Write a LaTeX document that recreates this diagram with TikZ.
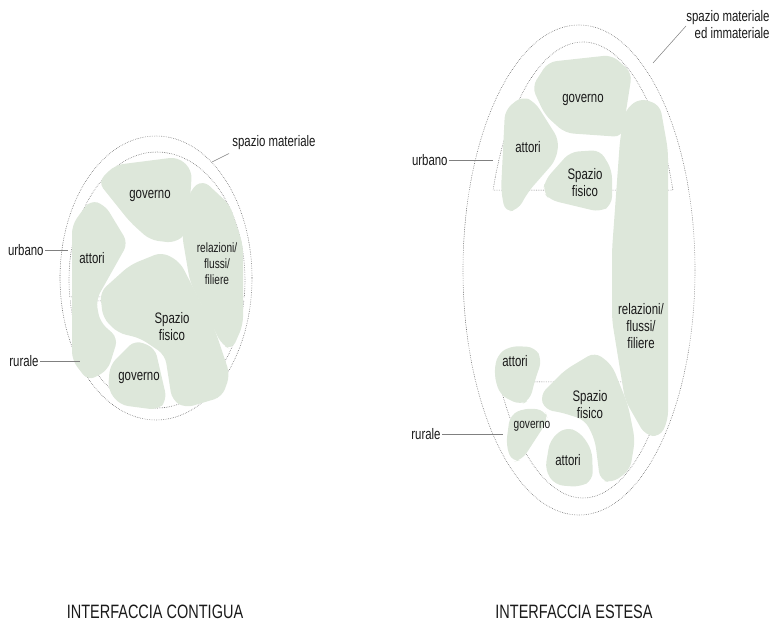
\documentclass[tikz,border=0pt]{standalone}
\usepackage{fontspec}
\setmainfont{Liberation Sans}[FakeStretch=0.75]
\definecolor{sage}{HTML}{DDE7DA}
\definecolor{ink}{HTML}{1A1A1A}
\tikzset{
  blob/.style={fill=sage,draw=none,rounded corners=7pt},
  ring/.style={draw=black!60,line width=0.5pt,dash pattern=on 0.5pt off 1pt},
  lead/.style={draw=black!50,line width=0.45pt},
  lbl/.style={text=ink,font=\fontsize{13}{14.5}\selectfont,inner sep=1pt,align=center},
  small/.style={font=\fontsize{11.5}{13.5}\selectfont},
  ttl/.style={text=ink,font=\fontsize{16.5}{19}\selectfont,inner sep=1pt}
}
\begin{document}
\begin{tikzpicture}[x=0.03cm,y=-0.03cm]
 \useasboundingbox (0,0) rectangle (776,625);
 % interfaccia contigua
 \draw[ring] (156,278) ellipse [x radius=96,y radius=142];
 \draw[ring] (157,280) ++(172.4:88 and 128) arc[start angle=172.4,end angle=367.6,x radius=88,y radius=128] -- cycle;
 \draw[ring] (157,280) ++(9.4:88 and 128) arc[start angle=9.4,end angle=170.6,x radius=88,y radius=128] -- cycle;
 \fill[blob] (98,182)--(115,165)--(178,157)--(192,170)--(188,232)--(175,243)--(150,240)--(130,222)--cycle;
 \fill[blob] (72,225)--(90,200)--(105,205)--(128,243)--(96,300)--(100,322)--(118,338)--(108,370)--(88,381)--(72,360)--cycle;
 \fill[blob] (190,190)--(203,180)--(230,205)--(243,245)--(243,325)--(232,350)--(222,345)--(190,282)--(182,235)--cycle;
 \fill[blob] (100,292)--(130,265)--(162,252)--(180,262)--(215,330)--(230,375)--(222,397)--(185,408)--(172,400)--(165,355)--(140,338)--(118,333)--(103,318)--cycle;
 \fill[blob] (110,365)--(135,340)--(155,348)--(167,400)--(158,410)--(120,405)--(108,390)--cycle;
 \node[lbl] (govA) at (150,196) {governo};
 \node[lbl] (attA) at (92,258) {attori};
 \node[lbl,small] (relA) at (217,264) {relazioni/\\flussi/\\filiere};
 \node[lbl] (spaA) at (172,327) {Spazio\\fisico};
 \node[lbl] (govB) at (139,378) {governo};
 \node[lbl,anchor=west] (matA) at (231,143) {spazio materiale};
 \node[lbl,anchor=east] (urbA) at (45,250) {urbano};
 \node[lbl,anchor=east] (rurA) at (40,361) {rurale};
 \coordinate (matAend) at (212,162);
 \coordinate (urbAend) at (68,250);
 \coordinate (rurAend) at (80,361);
 \draw[lead] (matA.south west) ++(-2,2) -- (matAend);
 \draw[lead] (urbA) -- (urbAend);
 \draw[lead] (rurA) -- (rurAend);
 \node[ttl] (titA) at (155,612) {INTERFACCIA CONTIGUA};
 % interfaccia estesa
 \draw[ring] (579,270) ellipse [x radius=116,y radius=245];
 \draw[ring] (583,270) ++(200.5:96 and 228) arc[start angle=200.5,end angle=339.5,x radius=96,y radius=228] -- cycle;
 \draw[ring] (583,270) ++(29.4:96 and 228) arc[start angle=29.4,end angle=150.6,x radius=96,y radius=228] -- cycle;
 \fill[blob] (532,87)--(548,62)--(612,55)--(632,73)--(622,137)--(565,133)--(545,115)--cycle;
 \fill[blob] (505,110)--(522,96)--(535,102)--(559,140)--(556,160)--(528,192)--(518,210)--(505,212)--(501,190)--cycle;
 \fill[blob] (545,180)--(570,152)--(600,150)--(612,170)--(612,205)--(600,212)--(550,200)--(543,192)--cycle;
 \fill[blob] (625,110)--(640,98)--(660,105)--(668,150)--(668,420)--(660,437)--(645,435)--(625,400)--(612,320)--(612,250)--(620,140)--cycle;
 \fill[blob] (497,355)--(510,346)--(535,347)--(542,360)--(535,380)--(530,400)--(520,405)--(500,395)--(494,375)--cycle;
 \fill[blob] (540,395)--(565,370)--(595,352)--(612,365)--(628,405)--(635,440)--(630,470)--(612,483)--(600,480)--(595,440)--(585,420)--(560,412)--(545,410)--cycle;
 \fill[blob] (510,415)--(525,408)--(545,410)--(548,420)--(535,440)--(522,460)--(512,462)--(506,445)--cycle;
 \fill[blob] (550,440)--(565,427)--(580,432)--(592,450)--(593,480)--(580,487)--(555,485)--(545,470)--cycle;
 \node[lbl] (govC) at (583,100) {governo};
 \node[lbl] (attC) at (528,147) {attori};
 \node[lbl] (spaC) at (585,183) {Spazio\\fisico};
 \node[lbl] (relC) at (641,326) {relazioni/\\flussi/\\filiere};
 \node[lbl] (attD) at (515,361) {attori};
 \node[lbl] (spaD) at (590,405) {Spazio\\fisico};
 \node[lbl,small] (govD) at (532,426) {governo};
 \node[lbl] (attE) at (568,460) {attori};
 \node[lbl,anchor=north east,align=right] (matC) at (771,9) {spazio materiale\\ed immateriale};
 \node[lbl,anchor=east] (urbC) at (449,160) {urbano};
 \node[lbl,anchor=east] (rurC) at (442,434) {rurale};
 \coordinate (matCend) at (653,63);
 \coordinate (urbCend) at (493,160);
 \coordinate (rurCend) at (503,434);
 \draw[lead] (686,26) -- (matCend);
 \draw[lead] (urbC) -- (urbCend);
 \draw[lead] (rurC) -- (rurCend);
 \node[ttl] (titC) at (574,612) {INTERFACCIA ESTESA};
\end{tikzpicture}
\end{document}
